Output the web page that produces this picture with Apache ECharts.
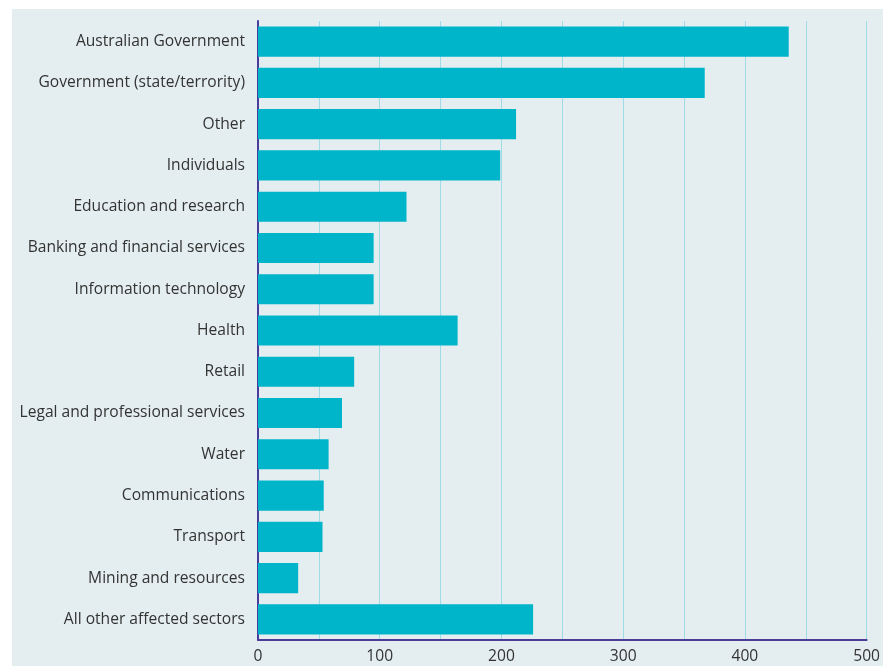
<!DOCTYPE html>
<html><head><meta charset="utf-8">
<script src="https://cdn.jsdelivr.net/npm/echarts@6/dist/echarts.min.js"></script>
<style>html,body{margin:0;padding:0;background:#fff}#c{width:883px;height:666px}</style>
</head><body><div id="c"></div>
<script>
const categories = ["Australian Government","Government (state/terrority)","Other","Individuals","Education and research","Banking and financial services","Information technology","Health","Retail","Legal and professional services","Water","Communications","Transport","Mining and resources","All other affected sectors"];
const values = [436, 367, 212, 199, 122, 95, 95, 164, 79, 69, 58, 54, 53, 33, 226];
const xTicks = [0, 100, 200, 300, 400, 500];

const chart = echarts.init(document.getElementById('c'), null, {renderer:'canvas'});
chart.setOption({
  animation:false,
  backgroundColor:'#ffffff',
  graphic:[{type:'rect', left:12, top:9, z:-10, shape:{width:871, height:657}, style:{fill:'#e4eef0'}}],
  grid:{left:258, right:15, top:21, bottom:26, containLabel:false},
  xAxis:{type:'value', min:0, max:500, interval:50,
    axisLine:{show:true, lineStyle:{color:'#4a3d9a', width:2}},
    axisTick:{show:false},
    axisLabel:{color:'#333', fontSize:15.6, fontFamily:'Open Sans', margin:9,
      formatter:v => xTicks.includes(v) ? String(v) : ''},
    splitLine:{show:true, lineStyle:{color:'#9fdbe5', width:1}}},
  yAxis:{type:'category', data:categories, inverse:true,
    axisLine:{show:true, lineStyle:{color:'#4a3d9a', width:2}},
    axisTick:{show:false},
    axisLabel:{color:'#333', fontSize:15.6, fontFamily:'Open Sans', margin:13}},
  series:[{type:'bar', data:values, barCategoryGap:'27%',
    itemStyle:{color:'#00b5c9'}}]
});
</script></body></html>
